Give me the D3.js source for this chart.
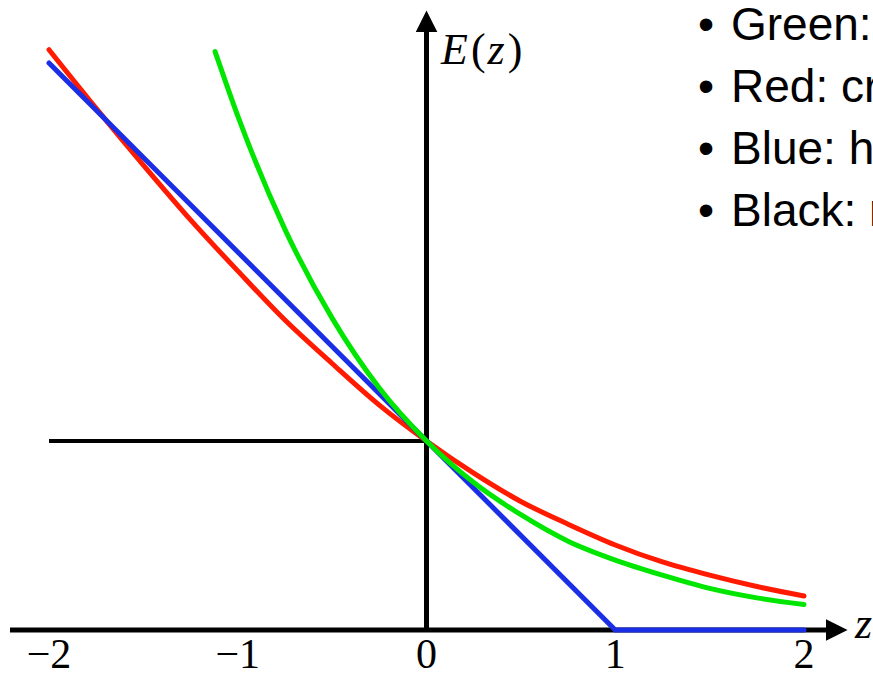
<!DOCTYPE html>
<html>
<head>
<meta charset="utf-8">
<script src="https://cdnjs.cloudflare.com/ajax/libs/d3/7.8.5/d3.min.js"></script>
<style>
    html, body { margin: 0; padding: 0; background: #fff; overflow: hidden; }
    svg { display: block; }
    .tick-label { font-family: "Liberation Serif", serif; font-size: 42px; }
    .math { font-family: "Liberation Serif", serif; font-size: 44px; }
    .legend { font-family: "Liberation Sans", Arial, sans-serif; font-size: 46px; }
</style>
</head>
<body>
<div id="chart"></div>
<script>
    var width = 873;
    var height = 673;

    // values
    var tickValues = [-2, -1, 0, 1, 2];
    var tickLabels = ["\u22122", "\u22121", "0", "1", "2"];

    var redZ = [-2, -1.75, -1.5, -1.25, -1, -0.75, -0.5, -0.25, 0, 0.25, 0.5, 0.75, 1, 1.25, 1.5, 1.75, 2];
    var redE = [3.07, 2.76, 2.46, 2.17, 1.90, 1.64, 1.41, 1.19, 1.00, 0.83, 0.68, 0.56, 0.45, 0.36, 0.29, 0.23, 0.18];

    var greenZ = [-1.12, -1, -0.75, -0.5, -0.25, 0, 0.25, 0.5, 0.75, 1, 1.25, 1.5, 1.75, 2];
    var greenE = [3.06, 2.72, 2.12, 1.65, 1.28, 1.00, 0.78, 0.61, 0.47, 0.37, 0.29, 0.22, 0.17, 0.135];

    var blueZ = [-2, 1, 2];
    var blueE = [3, 0, 0];

    var blackZ = [-2, 0];
    var blackE = [1, 1];

    var legendItems = ["Green: exponential", "Red: cross-entropy", "Blue: hinge", "Black: misclassification"];

    var x = d3.scaleLinear().domain([-2, 2]).range([49, 804]);
    var y = d3.scaleLinear().domain([0, 3]).range([630, 63]);

    var svg = d3.select("#chart").append("svg")
        .attr("width", width)
        .attr("height", height);

    var defs = svg.append("defs");
    defs.append("marker")
        .attr("id", "arrow")
        .attr("viewBox", "0 0 10 10")
        .attr("refX", 2)
        .attr("refY", 5)
        .attr("markerUnits", "userSpaceOnUse")
        .attr("markerWidth", 22)
        .attr("markerHeight", 22)
        .attr("orient", "auto")
        .append("path")
        .attr("d", "M0,0 L10,5 L0,10 Z")
        .attr("fill", "#000");

    // axes
    svg.append("line")
        .attr("x1", 10).attr("y1", y(0))
        .attr("x2", 830).attr("y2", y(0))
        .attr("stroke", "#000").attr("stroke-width", 5)
        .attr("marker-end", "url(#arrow)");

    svg.append("line")
        .attr("x1", x(0)).attr("y1", y(0))
        .attr("x2", x(0)).attr("y2", 28)
        .attr("stroke", "#000").attr("stroke-width", 5)
        .attr("marker-end", "url(#arrow)");

    svg.selectAll("text.tick-label")
        .data(tickValues)
        .enter().append("text")
        .attr("class", "tick-label")
        .attr("x", function(d) { return x(d); })
        .attr("y", 668)
        .attr("text-anchor", "middle")
        .text(function(d, i) { return tickLabels[i]; });

    var eLabel = svg.append("text").attr("class", "math").attr("x", 441).attr("y", 64);
    eLabel.append("tspan").attr("font-style", "italic").text("E");
    eLabel.append("tspan").attr("dx", 3).text("(");
    eLabel.append("tspan").attr("dx", 2).attr("font-style", "italic").text("z");
    eLabel.append("tspan").attr("dx", 3).text(")");

    svg.append("text").attr("class", "math")
        .attr("x", 855).attr("y", 638)
        .attr("font-style", "italic")
        .text("z");

    var line = d3.line()
        .x(function(d) { return x(d[0]); })
        .y(function(d) { return y(d[1]); })
        .curve(d3.curveMonotoneX);

    var straight = d3.line()
        .x(function(d) { return x(d[0]); })
        .y(function(d) { return y(d[1]); });

    function pairs(zs, es) {
        return zs.map(function(z, i) { return [z, es[i]]; });
    }

    svg.append("path")
        .datum(pairs(blackZ, blackE))
        .attr("d", straight)
        .attr("fill", "none")
        .attr("stroke", "#000")
        .attr("stroke-width", 4);

    svg.append("path")
        .datum(pairs(redZ, redE))
        .attr("d", line)
        .attr("fill", "none")
        .attr("stroke", "#ff1a00")
        .attr("stroke-width", 5)
        .attr("stroke-linecap", "round");

    svg.append("path")
        .datum(pairs(blueZ, blueE))
        .attr("d", straight)
        .attr("fill", "none")
        .attr("stroke", "#1a2ee6")
        .attr("stroke-width", 5)
        .attr("stroke-linecap", "round");

    svg.append("path")
        .datum(pairs(greenZ, greenE))
        .attr("d", line)
        .attr("fill", "none")
        .attr("stroke", "#00e600")
        .attr("stroke-width", 5)
        .attr("stroke-linecap", "round");

    // legend text (runs off the right edge, as in the original)
    var legend = svg.selectAll("g.legend-item")
        .data(legendItems)
        .enter().append("g")
        .attr("class", "legend-item")
        .attr("transform", function(d, i) { return "translate(0," + (40 + i * 62) + ")"; });

    legend.append("text")
        .attr("class", "legend")
        .attr("x", 698)
        .attr("y", 0)
        .text("\u2022");

    legend.append("text")
        .attr("class", "legend")
        .attr("x", 731)
        .attr("y", 0)
        .text(function(d) { return d; });
</script>
</body>
</html>
